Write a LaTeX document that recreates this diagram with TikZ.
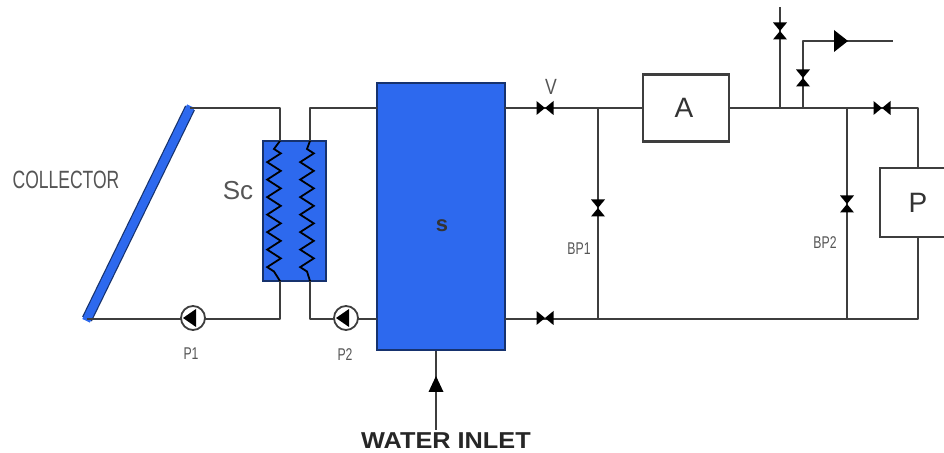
\documentclass[tikz,border=0pt]{standalone}
\usepackage{fontspec}
\setmainfont{Liberation Sans}
\usetikzlibrary{calc,decorations.pathmorphing}
\definecolor{tankblue}{RGB}{45,105,238}
\definecolor{tankedge}{RGB}{22,50,110}
\definecolor{pipegray}{RGB}{62,62,62}
\definecolor{labelgray}{RGB}{85,85,85}
\tikzset{
  pipe/.style={draw=pipegray,line width=1.25pt,line join=round},
  tank/.style={draw=tankedge,fill=tankblue,line width=1pt,inner sep=0pt},
  unitbox/.style={draw=pipegray,fill=white,line width=1.25pt,inner sep=0pt},
  valveh/.style={inner sep=0pt,minimum width=8.5pt,minimum height=7pt,path picture={
    \fill[black] (path picture bounding box.north west) -- (path picture bounding box.center) -- (path picture bounding box.south west) -- cycle;
    \fill[black] (path picture bounding box.north east) -- (path picture bounding box.center) -- (path picture bounding box.south east) -- cycle;}},
  valvev/.style={inner sep=0pt,minimum width=7pt,minimum height=8.5pt,path picture={
    \fill[black] (path picture bounding box.north west) -- (path picture bounding box.center) -- (path picture bounding box.north east) -- cycle;
    \fill[black] (path picture bounding box.south west) -- (path picture bounding box.center) -- (path picture bounding box.south east) -- cycle;}},
  pumpcirc/.style={circle,draw=pipegray,fill=white,line width=0.9pt,inner sep=0pt,minimum size=12pt,path picture={
    \fill[black] ([xshift=-5pt]path picture bounding box.center) -- ([xshift=1.5pt,yshift=4.5pt]path picture bounding box.center) -- ([xshift=1.5pt,yshift=-4.5pt]path picture bounding box.center) -- cycle;}},
  tipright/.style={inner sep=0pt,minimum width=7pt,minimum height=11pt,path picture={
    \fill[black] (path picture bounding box.north west) -- (path picture bounding box.east) -- (path picture bounding box.south west) -- cycle;}},
  tipup/.style={inner sep=0pt,minimum width=7.5pt,minimum height=8pt,path picture={
    \fill[black] (path picture bounding box.south west) -- (path picture bounding box.north) -- (path picture bounding box.south east) -- cycle;}},
  coil/.style={decoration={zigzag,segment length=8.75pt,amplitude=3.4pt}},
  small/.style={text=labelgray,font=\fontsize{8.5}{9}\selectfont,xscale=0.72,inner sep=0pt},
}
\begin{document}
\begin{tikzpicture}[x=0.5pt,y=-0.5pt]
\useasboundingbox (0,0) rectangle (944,453);
%% --- Collector ---
\coordinate (coltop) at (190,108);
\coordinate (colbot) at (87,319);
\draw[tankedge,line width=5.4pt] (coltop) -- (colbot);
\draw[tankblue,line width=4.2pt,shorten <=-1pt,shorten >=-1pt] (coltop) -- (colbot);
\node[text=labelgray,font=\fontsize{12.5}{13}\selectfont,xscale=0.7,inner sep=0pt] (coltext) at (66,180) {COLLECTOR};
%% --- Heat exchanger ---
\node[tank,minimum width=31.5pt,minimum height=70pt] (sc) at (294.5,211) {};
\coordinate (sc1top) at (280,141);
\coordinate (sc1bot) at (280,281);
\coordinate (sc2top) at (310,141);
\coordinate (sc2bot) at (310,281);
\draw[black,line width=0.9pt] (sc1top) -- (274,149) decorate[coil] { -- (274,271.5)} -- (sc1bot);
\draw[black,line width=0.9pt] (sc2top) -- (307,149) decorate[coil] { -- (307,271.5)} -- (sc2bot);
\node[text=labelgray,font=\fontsize{13}{14}\selectfont,inner sep=0pt] (sctext) at (238,191) {Sc};
%% --- Storage tank ---
\node[tank,minimum width=64pt,minimum height=133.5pt] (tank) at (441,216.5) {};
\node[font=\bfseries\fontsize{11}{12}\selectfont,text=black!80,inner sep=0pt] (tanktext) at (442,226) {s};
\coordinate (tankul) at (377,108);
\coordinate (tankll) at (377,319);
\coordinate (tankur) at (505,108);
\coordinate (tanklr) at (505,319);
%% --- Load boxes ---
\node[unitbox,minimum width=43pt,minimum height=33.5pt] (unita) at (686,108) {};
\node[font=\fontsize{14}{15}\selectfont,text=black!80,inner sep=0pt] (unitatext) at (684,108) {A};
\node[unitbox,minimum width=38pt,minimum height=34.5pt] (unitp) at (918,202.5) {};
\node[font=\fontsize{14}{15}\selectfont,text=black!80,inner sep=0pt] (unitptext) at (918,203) {P};
%% --- Junctions ---
\coordinate (bp1top) at (598,108);
\coordinate (bp1bot) at (598,319);
\coordinate (bp2top) at (847,108);
\coordinate (bp2bot) at (847,319);
\coordinate (ventj) at (780,108);
\coordinate (ventend) at (780,7);
\coordinate (drawj) at (803,108);
\coordinate (drawbend) at (803,41);
\coordinate (drawend) at (893,41);
\coordinate (retcorner) at (918,108);
\coordinate (lowcorner) at (918,319);
\coordinate (inletend) at (436,430);
%% --- Piping ---
\draw[pipe] (coltop) -| (sc1top);
\draw[pipe] (sc2top) |- (tankul);
\draw[pipe] (colbot) -| (sc1bot);
\draw[pipe] (sc2bot) |- (tankll);
\draw[pipe] (tankur) -- (unita.west);
\draw[pipe] (unita.east) -- (retcorner) -- (unitp.north-|retcorner);
\draw[pipe] (tanklr) -- (lowcorner) -- (unitp.south-|lowcorner);
\draw[pipe] (bp1top) -- (bp1bot);
\draw[pipe] (bp2top) -- (bp2bot);
\draw[pipe] (ventj) -- (ventend);
\draw[pipe] (drawj) -- (drawbend) -- (drawend);
\draw[pipe] (inletend) -- (tank.south-|inletend);
%% --- Pumps, valves, tips ---
\node[pumpcirc] (p1) at (193,318) {};
\node[pumpcirc] (p2) at (346,318) {};
\node[valveh] (v1) at (545,108) {};
\node[valveh] (v2) at (545,318) {};
\node[valveh] (v3) at (882,108) {};
\node[valvev] (v4) at (598,208) {};
\node[valvev] (v5) at (847,204) {};
\node[valvev] (v6) at (780,31) {};
\node[valvev] (v7) at (803,78) {};
\node[tipright] (tip1) at (841,41) {};
\node[tipup] (tip2) at (436,384) {};
%% --- Labels ---
\node[small] (p1text) at (191,354) {P1};
\node[small] (p2text) at (345,355) {P2};
\node[small] (bp1text) at (579,249) {BP1};
\node[small] (bp2text) at (825,243) {BP2};
\node[text=labelgray,font=\fontsize{11}{12}\selectfont,xscale=0.8,inner sep=0pt] (vtext) at (551,87) {V};
\node[font=\bfseries\fontsize{11.5}{12}\selectfont,text=black!85,xscale=1.1,inner sep=0pt] (inlettext) at (446,441) {WATER INLET};
\end{tikzpicture}
\end{document}
